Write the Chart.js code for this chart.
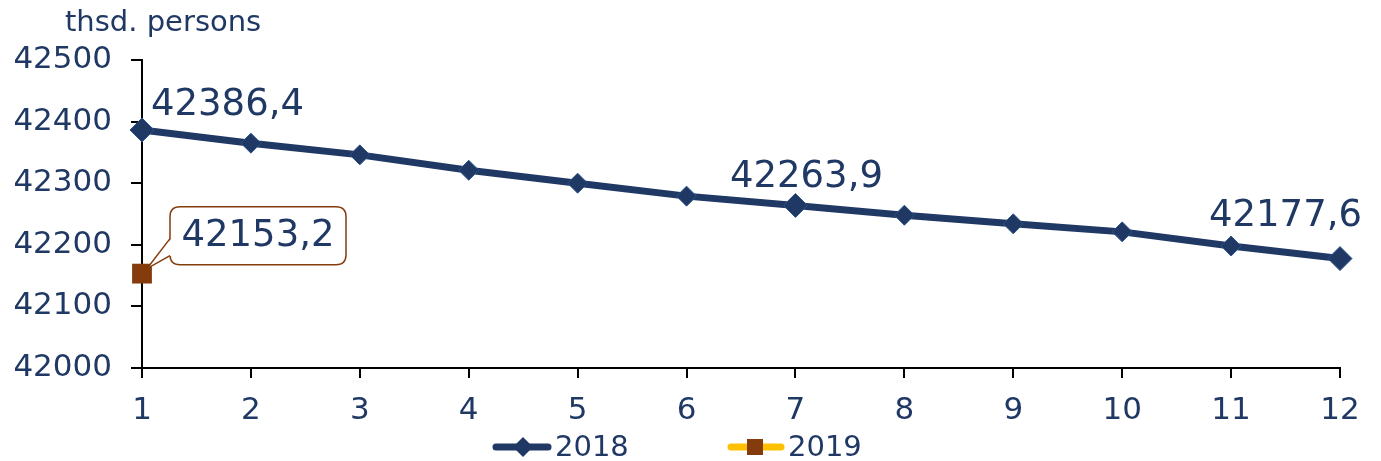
<!DOCTYPE html>
<html lang="en">
<head>
<meta charset="UTF-8">
<title>thsd. persons</title>
<script src="https://cdn.jsdelivr.net/npm/chart.js"></script>
<style>
    body { margin: 0; background: #fff; }
    #wrap { width: 1381px; height: 461px; position: relative; }
</style>
</head>
<body>
<div id="wrap"><canvas id="grafico"></canvas></div>

<script>
    // dados
    const meses = ['1', '2', '3', '4', '5', '6', '7', '8', '9', '10', '11', '12'];
    const valores2018 = [42386.4, 42365, 42346, 42321, 42300, 42279, 42263.9, 42248, 42234, 42221, 42198, 42177.6];
    const valores2019 = [42153.2, null, null, null, null, null, null, null, null, null, null, null];
    const ticksY = [42000, 42100, 42200, 42300, 42400, 42500];
    const rotulos2018 = { 0: '42386,4', 6: '42263,9', 11: '42177,6' };
    const rotulo2019 = '42153,2';

    const azul = '#203864';
    const marrom = '#843C0C';
    const amarelo = '#FFC000';
    const fonte = 'DejaVu Sans, Verdana, sans-serif';

    function roundRect(ctx, x, y, w, h, r) {
        ctx.beginPath();
        ctx.moveTo(x + r, y);
        ctx.lineTo(x + w - r, y);
        ctx.quadraticCurveTo(x + w, y, x + w, y + r);
        ctx.lineTo(x + w, y + h - r);
        ctx.quadraticCurveTo(x + w, y + h, x + w - r, y + h);
        ctx.lineTo(x + r, y + h);
        ctx.quadraticCurveTo(x, y + h, x, y + h - r);
        ctx.lineTo(x, y + r);
        ctx.quadraticCurveTo(x, y, x + r, y);
        ctx.closePath();
    }

    const extras = {
        id: 'extras',
        afterDraw(chart) {
            const ctx = chart.ctx;
            const xs = chart.scales.x;
            const ys = chart.scales.y;
            ctx.save();

            // titulo do eixo
            ctx.fillStyle = azul;
            ctx.font = '29px ' + fonte;
            ctx.textAlign = 'left';
            ctx.textBaseline = 'alphabetic';
            ctx.fillText('thsd. persons', 65, 31);

            // rotulos 2018
            ctx.font = '37px ' + fonte;
            Object.keys(rotulos2018).forEach(function (i) {
                const px = xs.getPixelForValue(Number(i));
                const py = ys.getPixelForValue(valores2018[i]);
                if (i == 0) {
                    ctx.textAlign = 'left';
                    ctx.fillText(rotulos2018[i], px + 9, py - 15);
                } else if (i == 6) {
                    ctx.textAlign = 'center';
                    ctx.fillText(rotulos2018[i], px + 11, py - 18);
                } else {
                    ctx.textAlign = 'right';
                    ctx.fillText(rotulos2018[i], px + 22, py - 33);
                }
            });

            // callout 2019
            const cx = xs.getPixelForValue(0);
            const cy = ys.getPixelForValue(valores2019[0]);
            const bx = cx + 28, by = cy - 67, bw = 176, bh = 58;
            ctx.strokeStyle = marrom;
            ctx.lineWidth = 1.5;
            ctx.fillStyle = '#fff';
            roundRect(ctx, bx, by, bw, bh, 10);
            ctx.fill();
            ctx.stroke();
            // ponteiro
            ctx.beginPath();
            ctx.moveTo(bx + 1, by + 32);
            ctx.lineTo(cx + 5, cy - 5);
            ctx.lineTo(bx + 1, by + 49);
            ctx.closePath();
            ctx.fill();
            ctx.beginPath();
            ctx.moveTo(bx, by + 32);
            ctx.lineTo(cx + 5, cy - 5);
            ctx.lineTo(bx, by + 49);
            ctx.stroke();
            ctx.fillStyle = azul;
            ctx.textAlign = 'center';
            ctx.textBaseline = 'middle';
            ctx.fillText(rotulo2019, bx + bw / 2, by + bh / 2 + 1);

            // legenda
            const ly = 447;
            ctx.lineCap = 'round';
            ctx.lineWidth = 7;
            ctx.strokeStyle = azul;
            ctx.beginPath();
            ctx.moveTo(496, ly);
            ctx.lineTo(548, ly);
            ctx.stroke();
            ctx.fillStyle = azul;
            ctx.beginPath();
            ctx.moveTo(513, ly);
            ctx.lineTo(523, ly - 10);
            ctx.lineTo(533, ly);
            ctx.lineTo(523, ly + 10);
            ctx.closePath();
            ctx.fill();

            ctx.strokeStyle = amarelo;
            ctx.beginPath();
            ctx.moveTo(731, ly);
            ctx.lineTo(781, ly);
            ctx.stroke();
            ctx.fillStyle = marrom;
            ctx.fillRect(747, ly - 8, 16, 16);

            ctx.fillStyle = azul;
            ctx.font = '29px ' + fonte;
            ctx.textAlign = 'left';
            ctx.textBaseline = 'middle';
            ctx.fillText('2018', 555, ly + 1);
            ctx.fillText('2019', 788, ly + 1);

            ctx.restore();
        }
    };

    new Chart(document.getElementById('grafico'), {
        type: 'line',
        data: {
            labels: meses,
            datasets: [{
                label: '2018',
                data: valores2018,
                borderColor: azul,
                borderWidth: 7,
                backgroundColor: azul,
                pointStyle: 'rectRot',
                pointRadius: [12, 10, 10, 10, 10, 10, 12, 10, 10, 10, 10, 12],
                pointBackgroundColor: azul,
                pointBorderColor: '#2A5288',
                pointBorderWidth: 1,
                tension: 0,
                clip: false
            }, {
                label: '2019',
                data: valores2019,
                borderColor: amarelo,
                borderWidth: 7,
                pointStyle: 'rect',
                pointRadius: 14,
                pointBackgroundColor: marrom,
                pointBorderColor: marrom,
                pointBorderWidth: 0,
                clip: false
            }]
        },
        options: {
            responsive: true,
            maintainAspectRatio: false,
            animation: false,
            layout: { padding: { top: 60, right: 41, left: 0, bottom: 0 } },
            plugins: {
                legend: { display: false },
                tooltip: { enabled: false }
            },
            scales: {
                x: {
                    offset: false,
                    grid: { drawOnChartArea: false, drawTicks: true, tickLength: 10, color: '#000', lineWidth: 2 },
                    border: { color: '#000', width: 2 },
                    ticks: { color: azul, font: { size: 31, family: fonte }, padding: 14, maxRotation: 0 },
                    afterFit: function (s) { s.height = 93; }
                },
                y: {
                    min: 42000,
                    max: 42500,
                    afterBuildTicks: function (s) { s.ticks = ticksY.map(v => ({ value: v })); },
                    grid: { drawOnChartArea: false, drawTicks: true, tickLength: 11, color: '#000', lineWidth: 2 },
                    border: { color: '#000', width: 2 },
                    ticks: {
                        color: azul,
                        font: { size: 31, family: fonte },
                        padding: 19,
                        callback: function (v) { return String(v); }
                    },
                    afterFit: function (s) { s.width = 142; }
                }
            }
        },
        plugins: [extras]
    });
</script>
</body>
</html>
